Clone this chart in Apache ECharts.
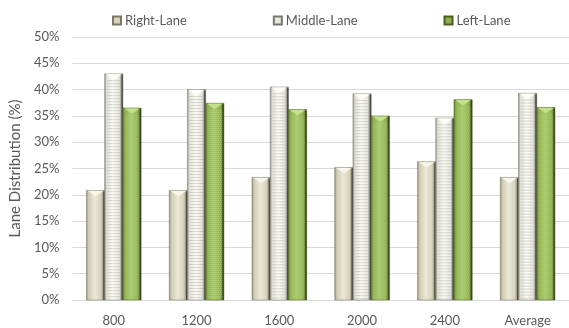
<!DOCTYPE html>
<html><head><meta charset="utf-8">
<script src="https://cdn.jsdelivr.net/npm/echarts@6/dist/echarts.min.js"></script>
<style>html,body{margin:0;padding:0;background:#fff}#c{width:569px;height:328px}</style>
</head><body><div id="c"></div>
<script>
const categories = ['800', '1200', '1600', '2000', '2400', 'Average'];
const rightLane = [20.8, 20.8, 23.3, 25.2, 26.3, 23.3];
const middleLane = [43.0, 40.0, 40.5, 39.2, 34.6, 39.3];
const leftLane = [36.5, 37.4, 36.2, 35.0, 38.1, 36.6];
const yTicks = [0, 5, 10, 15, 20, 25, 30, 35, 40, 45, 50];
const seriesNames = ['Right-Lane', 'Middle-Lane', 'Left-Lane'];

const FONT = 'Lato, "Open Sans", sans-serif';
function grad(stops) {
  return new echarts.graphic.LinearGradient(0, 0, 1, 0, stops.map(c => ({offset: c[0], color: c[1]})));
}
const styles = [
  {fill: grad([[0,'#8f8a74'],[0.12,'#cfcab2'],[0.45,'#ece8d6'],[0.8,'#d6d1ba'],[0.92,'#8e8972'],[1,'#4f4b3e']]),
   cap: '#f8f6ea', border: '#7a7662', legend: '#d8d3bc', stripe: null},
  {fill: grad([[0,'#8a8a84'],[0.12,'#e2e2da'],[0.45,'#fdfdf8'],[0.8,'#e6e6de'],[0.92,'#8c8c86'],[1,'#505050']]),
   cap: '#fffff8', border: '#77776f', legend: '#e8e8e0', stripe: 'h'},
  {fill: grad([[0,'#5f7c2c'],[0.12,'#8fb050'],[0.45,'#a9cb6c'],[0.8,'#93b456'],[0.92,'#5e7a2a'],[1,'#3b4d18']]),
   cap: '#c4e28c', border: '#4a601f', legend: '#8fb050', stripe: 'd'}
];
const BAR_FRAC = 0.66;

function makeRender(k) {
  const st = styles[k];
  return function (params, api) {
    const cat = api.value(0);
    const val = api.value(1);
    const base = api.coord([cat, 0]);
    const top = api.coord([cat, val]);
    const band = api.size([1, 0])[0];
    const bw = band * BAR_FRAC / 3;
    const x0 = base[0] - 1.5 * bw + k * bw;
    const x1 = x0 + bw;
    const xc = (x0 + x1) / 2;
    const yt = top[1];
    const yb = base[1];
    const capH = Math.min(bw * 0.32, (yb - yt) * 0.5);
    const children = [
      {type: 'rect', shape: {x: x0, y: yt, width: bw, height: yb - yt},
       style: {fill: st.fill, stroke: st.border, lineWidth: 0.5}}
    ];
    if (st.stripe === 'h') {
      for (let y = yt + capH + 1; y < yb - 1; y += 3) {
        children.push({type: 'line', shape: {x1: x0 + bw * 0.12, y1: y, x2: x1 - bw * 0.1, y2: y},
          style: {stroke: 'rgba(160,160,148,0.4)', lineWidth: 1}});
      }
    } else if (st.stripe === 'd') {
      for (let y = yt + capH + 1; y < yb - 1; y += 2) {
        for (let x = x0 + bw * 0.12 + ((y - yt) % 4 < 2 ? 0 : 1); x < x1 - bw * 0.1; x += 2) {
          children.push({type: 'rect', shape: {x: x, y: y, width: 1, height: 1},
            style: {fill: 'rgba(205,232,160,0.35)'}});
        }
      }
    }
    children.push(
      {type: 'polygon', shape: {points: [[x0 + bw * 0.08, yt + 0.5], [x1 - bw * 0.08, yt + 0.5], [xc, yt + capH]]},
       style: {fill: st.cap}}
    );
    children.push({type: 'rect', shape: {x: x1 - 1.5, y: yt + 1, width: 1.5, height: yb - yt - 1},
      style: {fill: 'rgba(40,40,30,0.5)'}});
    return {type: 'group', children: children};
  };
}

function seriesData(arr) { return arr.map((v, i) => [i, v]); }
const laneData = [rightLane, middleLane, leftLane];

const chart = echarts.init(document.getElementById('c'), null, {renderer: 'canvas'});
chart.setOption({
  animation: false,
  textStyle: {fontFamily: FONT},
  legend: {
    top: 9, left: 107, itemGap: 86, itemWidth: 8, itemHeight: 8,
    icon: 'rect',
    textStyle: {fontFamily: FONT, fontSize: 13, color: '#595959', padding: [0,0,0,-1]},
    data: seriesNames
  },
  grid: {left: 68, top: 37, width: 507, bottom: 28, containLabel: false},
  xAxis: {
    type: 'category', data: categories,
    axisLine: {lineStyle: {color: '#d9d9d9'}},
    axisTick: {show: false},
    axisLabel: {color: '#595959', fontSize: 13, fontFamily: FONT, margin: 14}
  },
  yAxis: {
    type: 'value', min: 0, max: 50, interval: 5,
    name: 'Lane Distribution (%)', nameLocation: 'middle', nameGap: 45, nameRotate: 90,
    nameTextStyle: {color: '#595959', fontSize: 15, fontFamily: FONT},
    axisLine: {show: false}, axisTick: {show: false},
    splitLine: {lineStyle: {color: '#d9d9d9'}},
    axisLabel: {color: '#595959', fontSize: 13, fontFamily: FONT, margin: 13,
      formatter: v => yTicks.includes(v) ? v + '%' : ''}
  },
  series: seriesNames.map((name, k) => ({
    name: name, type: 'custom', data: seriesData(laneData[k]),
    encode: {x: 0, y: 1},
    itemStyle: {color: styles[k].legend, borderColor: styles[k].border, borderWidth: 0.6},
    renderItem: makeRender(k)
  }))
});
</script></body></html>
